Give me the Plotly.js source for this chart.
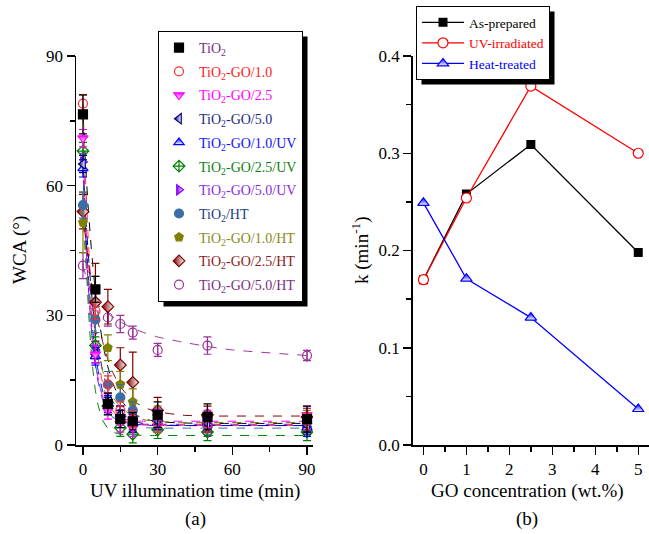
<!DOCTYPE html>
<html>
<head>
<meta charset="utf-8">
<script src="https://cdn.plot.ly/plotly-3.0.1.min.js"></script>
<style>html,body{margin:0;padding:0;background:#fff}#chart{width:649px;height:534px}</style>
</head>
<body>
<div id="chart"></div>
<script>
// ---------- Panel (a): WCA vs UV illumination time ----------
const timeMin = [0, 5, 10, 15, 20, 30, 50, 90];
const seriesNamesA = ["TiO<sub>2</sub>", "TiO<sub>2</sub>-GO/1.0", "TiO<sub>2</sub>-GO/2.5", "TiO<sub>2</sub>-GO/5.0",
  "TiO<sub>2</sub>-GO/1.0/UV", "TiO<sub>2</sub>-GO/2.5/UV", "TiO<sub>2</sub>-GO/5.0/UV", "TiO<sub>2</sub>/HT",
  "TiO<sub>2</sub>-GO/1.0/HT", "TiO<sub>2</sub>-GO/2.5/HT", "TiO<sub>2</sub>-GO/5.0/HT"];
const wcaTiO2      = [76.5, 36, 9.5, 6, 5.5, 7, 6.5, 6];
const wcaGO10      = [79, 31, 14, 8, 6, 5, 5, 5.5];
const wcaGO25      = [71, 21, 8, 5, 4, 6.5, 6, 7];
const wcaGO50      = [65, 21, 9, 7, 5, 5.5, 5, 4.5];
const wcaGO10UV    = [64, 20.5, 9.5, 7, 5, 6, 5, 4];
const wcaGO25UV    = [68, 23, 9, 4, 2.5, 3.5, 3, 3];
const wcaGO50UV    = [65.5, 22, 10, 7, 6, 5, 4, 5];
const wcaTiO2HT    = [55.5, 29, 14, 11, 8, 6, 4.5, 4];
const wcaGO10HT    = [51.5, 36, 22.5, 14, 10, 7, 5, 6];
const wcaGO25HT    = [54, 33, 32, 18.5, 14.5, 8, 7, 6.5];
const wcaGO50HT    = [41.5, 33, 29.5, 28, 26, 22, 23, 20.7];
const errTiO2   = [4.5, 3, 2.5, 2, 2, 3, 3, 3];
const errGO10   = [2, 2, 2, 2, 2, 2, 2, 2];
const errGO25   = [2, 2, 2, 2, 2, 2, 2, 2];
const errGO50   = [2, 2, 2, 2, 2, 2, 2, 2];
const errGO10UV = [2, 2, 2, 2, 2, 2, 2, 2];
const errGO25UV = [2, 2, 2, 2, 2, 2, 2, 2];
const errGO50UV = [2, 2, 2, 2, 2, 2, 2, 2];
const errTiO2HT = [3, 3, 3, 3, 2, 2, 2, 2];
const errGO10HT = [7, 3, 3, 3, 3, 2, 2, 2];
const errGO25HT = [4, 9, 4, 4, 7, 3, 2, 2];
const errGO50HT = [3, 2, 2, 2, 1.5, 1.5, 2, 1.2];

// fitted (dashed) curves
const fitTime     = [0, 1, 2, 3, 4, 5, 6, 8, 10, 12, 15, 20, 25, 30, 40, 50, 60, 90];
const fitTiO2     = [76.5, 65.3, 55.9, 47.9, 41.3, 35.5, 30.8, 23.4, 18.1, 14.3, 10.6, 7.4, 6.0, 5.4, 5.1, 5, 5, 5];
const fitGO10     = [79, 62.1, 49.0, 38.8, 31.0, 25.0, 20.4, 14.0, 10.2, 7.9, 6.1, 4.9, 4.6, 4.5, 4.5, 4.5, 4.5, 4.5];
const fitGO25     = [71, 53.6, 40.8, 31.4, 24.6, 19.5, 15.8, 11.1, 8.5, 7.1, 6.2, 5.6, 5.5, 5.5, 5.5, 5.5, 5.5, 5.5];
const fitGO50     = [65, 54.1, 45.2, 37.9, 31.9, 27.0, 23.0, 16.9, 12.8, 10.1, 7.6, 5.6, 4.9, 4.7, 4.5, 4.5, 4.5, 4.5];
const fitGO10UV   = [64, 50.7, 40.3, 32.3, 26.0, 21.2, 17.5, 12.3, 9.2, 7.3, 5.8, 4.9, 4.6, 4.5, 4.5, 4.5, 4.5, 4.5];
const fitGO25UV   = [68, 47.7, 33.7, 24.0, 17.3, 12.6, 9.4, 5.6, 3.9, 3.0, 2.5, 2.3, 2.2, 2.2, 2.2, 2.2, 2.2, 2.2];
const fitGO50UV   = [65.5, 49.8, 38.1, 29.5, 23.1, 18.3, 14.8, 10.3, 7.8, 6.4, 5.5, 4.9, 4.8, 4.8, 4.8, 4.8, 4.8, 4.8];
const fitTiO2HT   = [55.5, 44.1, 35.3, 28.4, 22.9, 18.8, 15.5, 10.9, 8.2, 6.5, 5.1, 4.3, 4.0, 3.9, 3.9, 3.9, 3.9, 3.9];
const fitGO10HT   = [51.5, 44.2, 38.1, 32.9, 28.6, 24.9, 21.8, 17.0, 13.6, 11.1, 8.8, 6.7, 5.8, 5.5, 5.2, 5.2, 5.2, 5.2];
const fitGO25HT   = [54, 48.2, 43.3, 38.9, 35.0, 31.6, 28.6, 23.7, 19.8, 16.8, 13.5, 10.3, 8.6, 7.7, 6.9, 6.7, 6.7, 6.7];
const fitGO50HT   = [41.5, 39.5, 37.5, 35.8, 34.3, 33.2, 32.4, 31.2, 30.4, 29.6, 28.5, 27, 25.9, 25, 23.8, 22.8, 22, 20.7];

// ---------- Panel (b): k vs GO concentration ----------
const goConc      = [0, 1, 2.5, 5];
const kAsPrepared = [0.170, 0.258, 0.309, 0.198];
const kUV         = [0.170, 0.254, 0.369, 0.300];
const kHeat       = [0.249, 0.171, 0.131, 0.037];
const seriesNamesB = ["As-prepared", "UV-irradiated", "Heat-treated"];

const xTicksA = [0, 30, 60, 90];
const yTicksA = [0, 30, 60, 90];
const xTicksB = [0, 1, 2, 3, 4, 5];
const yTicksB = [0, 0.1, 0.2, 0.3, 0.4];
const yTickTextB = ["0.0", "0.1", "0.2", "0.3", "0.4"];

// ---------- styles ----------
const W = 649, H = 534;
const px = v => v / W, py = v => 1 - v / H;
const SERIF = "Liberation Serif, Times New Roman, serif";

const dataA = [wcaTiO2, wcaGO10, wcaGO25, wcaGO50, wcaGO10UV, wcaGO25UV, wcaGO50UV, wcaTiO2HT, wcaGO10HT, wcaGO25HT, wcaGO50HT];
const errA  = [errTiO2, errGO10, errGO25, errGO50, errGO10UV, errGO25UV, errGO50UV, errTiO2HT, errGO10HT, errGO25HT, errGO50HT];
const fitA  = [fitTiO2, fitGO10, fitGO25, fitGO50, fitGO10UV, fitGO25UV, fitGO50UV, fitTiO2HT, fitGO10HT, fitGO25HT, fitGO50HT];
const colA  = ["#000000", "#ff3030", "#ff00ff", "#000080", "#0000ff", "#008000", "#8000ff", "#3a6ea5", "#808000", "#800000", "#993399"];
const textColA = ["#7a2f82", "#ff2020", "#ff00ff", "#1c2a80", "#1010ff", "#108010", "#8a2be2", "#203a80", "#8a8a20", "#8b1a1a", "#7a2f82"];
const symA  = ["square", "circle-open", "triangle-down", "triangle-left", "triangle-up", "diamond-cross-open",
  "triangle-right", "circle", "pentagon", "diamond", "circle-open"];
const gradA = [null, null, "vertical", "horizontal", "vertical", null, "horizontal", null, null, "horizontal", null];

const traces = [];
for (let i = 0; i < fitA.length; i++) {
  traces.push({
    x: fitTime, y: fitA[i], type: "scatter", mode: "lines", xaxis: "x", yaxis: "y",
    line: {color: colA[i], width: 1, dash: "dash", shape: "spline", smoothing: 0.6},
    showlegend: false, hoverinfo: "skip"
  });
}
// markers drawn in reverse order (first legend entry on top), legend order kept by legendrank
for (let i = dataA.length - 1; i >= 0; i--) {
  const m = {symbol: symA[i], size: 9, color: colA[i], line: {color: colA[i], width: 1.2}};
  if (gradA[i]) m.gradient = {type: gradA[i], color: "white"};
  traces.push({
    x: timeMin, y: dataA[i], type: "scatter", mode: "markers", xaxis: "x", yaxis: "y",
    name: '<span style="color:' + textColA[i] + '">' + seriesNamesA[i] + '</span>',
    marker: m, legend: "legend", legendgroup: "a" + i, legendrank: 100 + i,
    error_y: {type: "data", array: errA[i], visible: true, color: colA[i], thickness: 1.2, width: 4}
  });
  if (i === 10) {
    traces.push({
      x: timeMin, y: wcaGO50HT, type: "scatter", mode: "markers", xaxis: "x", yaxis: "y",
      marker: {symbol: "line-ns-open", size: 9, color: colA[10], line: {color: colA[10], width: 1.2}},
      showlegend: false, hoverinfo: "skip"
    });
  }
}

traces.push({
  x: goConc, y: kAsPrepared, type: "scatter", mode: "lines+markers", xaxis: "x2", yaxis: "y2",
  name: '<span style="color:#000">' + seriesNamesB[0] + '</span>', legend: "legend2",
  line: {color: "#000000", width: 1.3}, marker: {symbol: "square", size: 9, color: "#000000"}
});
traces.push({
  x: goConc, y: kUV, type: "scatter", mode: "lines+markers", xaxis: "x2", yaxis: "y2",
  name: '<span style="color:#ff0000">' + seriesNamesB[1] + '</span>', legend: "legend2",
  line: {color: "#ff0000", width: 1.3}, marker: {symbol: "circle", size: 10, color: "#ffffff", line: {color: "#ff0000", width: 1.2}}
});
traces.push({
  x: goConc, y: kHeat, type: "scatter", mode: "lines+markers", xaxis: "x2", yaxis: "y2",
  name: '<span style="color:#0000ff">' + seriesNamesB[2] + '</span>', legend: "legend2",
  line: {color: "#0000ff", width: 1.3},
  marker: {symbol: "triangle-up", size: 10, color: "#0000ff", line: {color: "#0000ff", width: 1.2}, gradient: {type: "vertical", color: "white"}}
});

const axisCommon = {
  showline: true, linecolor: "#000", linewidth: 1.5, ticks: "outside", ticklen: 8, tickwidth: 1.5, tickcolor: "#000",
  showgrid: false, zeroline: false, tickfont: {family: SERIF, size: 17, color: "#000"}, fixedrange: true
};
const minorStyle = {ticks: "outside", ticklen: 5, tickwidth: 1.5, tickcolor: "#000"};

const layout = {
  width: W, height: H, margin: {l: 0, r: 0, t: 0, b: 0}, paper_bgcolor: "#fff", plot_bgcolor: "rgba(0,0,0,0)",
  font: {family: SERIF, color: "#000"},
  xaxis: Object.assign({}, axisCommon, {domain: [px(76), px(313)], range: [-2.8, 92.4], tickvals: xTicksA,
    minor: Object.assign({tickvals: [15, 45, 75]}, minorStyle), anchor: "y"}),
  yaxis: Object.assign({}, axisCommon, {domain: [py(445), py(56)], range: [0, 90], tickvals: yTicksA,
    minor: Object.assign({tickvals: [15, 45, 75]}, minorStyle), anchor: "x"}),
  xaxis2: Object.assign({}, axisCommon, {domain: [px(412.7), 1], range: [-0.25, 5.25], tickvals: xTicksB,
    minor: Object.assign({tickvals: [0.5, 1.5, 2.5, 3.5, 4.5]}, minorStyle), anchor: "y2"}),
  yaxis2: Object.assign({}, axisCommon, {domain: [py(445), py(56)], range: [0, 0.4], tickvals: yTicksB, ticktext: yTickTextB,
    minor: Object.assign({tickvals: [0.05, 0.15, 0.25, 0.35]}, minorStyle), anchor: "x2"}),
  showlegend: true,
  legend: {x: px(158), y: py(31), xanchor: "left", yanchor: "top", bgcolor: "#fff", bordercolor: "#000", borderwidth: 1,
    font: {family: SERIF, size: 14}, tracegroupgap: 2.5, traceorder: "grouped", itemclick: false, itemdoubleclick: false},
  legend2: {x: px(416), y: py(6), xanchor: "left", yanchor: "top", bgcolor: "#fff", bordercolor: "#000", borderwidth: 1,
    font: {family: SERIF, size: 13.5}, tracegroupgap: 0, itemwidth: 42, itemclick: false, itemdoubleclick: false},
  annotations: [
    {text: "WCA (°)", x: px(20), y: py(250), xanchor: "center", yanchor: "middle", xref: "paper", yref: "paper", showarrow: false, textangle: -90, font: {family: SERIF, size: 19}},
    {text: "k (min<sup>-1</sup>)", x: px(360), y: py(250), xanchor: "center", yanchor: "middle", xref: "paper", yref: "paper", showarrow: false, textangle: -90, font: {family: SERIF, size: 19}},
    {text: "UV illumination time (min)", x: px(195), y: py(491), xanchor: "center", yanchor: "middle", xref: "paper", yref: "paper", showarrow: false, font: {family: SERIF, size: 19}},
    {text: "(a)", x: px(195), y: py(519), xanchor: "center", yanchor: "middle", xref: "paper", yref: "paper", showarrow: false, font: {family: SERIF, size: 19}},
    {text: "GO concentration (wt.%)", x: px(527), y: py(491), xanchor: "center", yanchor: "middle", xref: "paper", yref: "paper", showarrow: false, font: {family: SERIF, size: 19}},
    {text: "(b)", x: px(527), y: py(519), xanchor: "center", yanchor: "middle", xref: "paper", yref: "paper", showarrow: false, font: {family: SERIF, size: 19}}
  ]
};

const gd = document.getElementById("chart");
Plotly.newPlot(gd, traces, layout, {displayModeBar: false, staticPlot: true}).then(function () {
  const root = gd.getBoundingClientRect();
  const shapes = [];
  ["legend", "legend2"].forEach(function (cls) {
    const bg = gd.querySelector("g." + cls + " rect.bg");
    if (!bg) return;
    const r = bg.getBoundingClientRect();
    const x0 = r.left - root.left + 5, y0 = r.top - root.top + 5;
    const x1 = r.right - root.left + 5, y1 = r.bottom - root.top + 5;
    shapes.push({type: "rect", xref: "paper", yref: "paper", x0: px(x0), x1: px(x1), y0: py(y1), y1: py(y0),
      fillcolor: "#000", line: {width: 0}, layer: "above"});
  });
  return Plotly.relayout(gd, {shapes: shapes});
});
</script>
</body>
</html>
